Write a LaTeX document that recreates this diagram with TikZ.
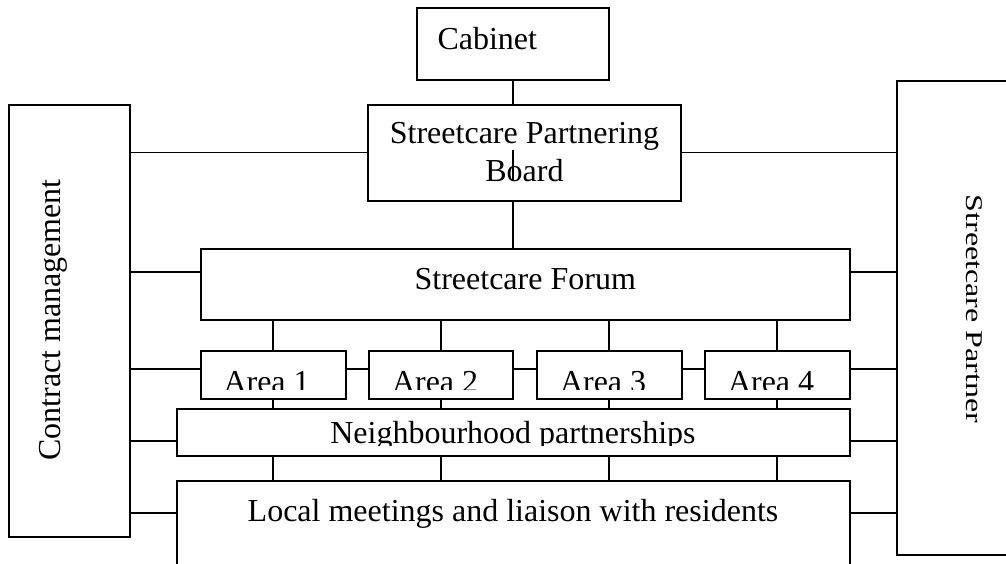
\documentclass[tikz,border=0pt]{standalone}
\usepackage{fontspec}
\setmainfont{Liberation Serif}
\usepackage{graphicx}
\begin{document}
\begin{tikzpicture}[x=1pt,y=-1pt,
  box/.style={draw, fill=white, line width=2pt, inner sep=0pt, outer sep=0pt},
  conn/.style={line width=1.8pt},
  lbl/.style={inner sep=0pt, outer sep=0pt, font=\fontsize{32}{38}\selectfont},
]
\useasboundingbox (0,0) rectangle (1006,563);
\clip (0,0) rectangle (1006,563);
% helper rows
\coordinate (yF) at (0,272);
\coordinate (yA) at (0,369);
\coordinate (yN) at (0,441);
\coordinate (yL) at (0,513);
\coordinate (s1) at (0,150);
\coordinate (s2) at (0,180);
% box shapes (placed first so names exist)
\path
  (513,43.75) node[box, minimum width=192.5, minimum height=72.5] (cab) {}
  (524.5,152.5) node[box, minimum width=313, minimum height=96] (board) {}
  (69.1,320.6) node[box, minimum width=120.8, minimum height=432.2] (contract) {}
  (958.5,318) node[box, minimum width=123, minimum height=474] (partner) {}
  (525.25,284.65) node[box, minimum width=649.5, minimum height=71.3] (forum) {}
  (273,375.15) node[box, minimum width=145, minimum height=48.3] (area1) {}
  (440.75,375.15) node[box, minimum width=144.5, minimum height=48.3] (area2) {}
  (609.25,375.15) node[box, minimum width=144.5, minimum height=48.3] (area3) {}
  (777.25,375.15) node[box, minimum width=144.5, minimum height=48.3] (area4) {}
  (513.25,432) node[box, minimum width=672.9, minimum height=47] (neigh) {}
  (513.25,540.25) node[box, minimum width=672.9, minimum height=119.5] (local) {};
% connectors
\draw[conn] (cab.south) -- (cab.south |- board.north);
\draw[conn] (cab.south |- board.south) -- (cab.south |- forum.north);
\draw[conn] (contract.east |- board.west) -- (board.west);
\draw[conn] (contract.east |- yF) -- (forum.west |- yF);
\draw[conn] (contract.east |- yA) -- (area1.west |- yA);
\draw[conn] (contract.east |- yN) -- (neigh.west |- yN);
\draw[conn] (contract.east |- yL) -- (local.west |- yL);
\draw[conn] (board.east) -- (partner.west |- board.east);
\draw[conn] (forum.east |- yF) -- (partner.west |- yF);
\draw[conn] (area4.east |- yA) -- (partner.west |- yA);
\draw[conn] (neigh.east |- yN) -- (partner.west |- yN);
\draw[conn] (local.east |- yL) -- (partner.west |- yL);
\draw[conn] (area1.east |- yA) -- (area2.west |- yA);
\draw[conn] (area2.east |- yA) -- (area3.west |- yA);
\draw[conn] (area3.east |- yA) -- (area4.west |- yA);
\foreach \a in {area1,area2,area3,area4}{
  \draw[conn] (\a.north |- forum.south) -- (\a.north);
  \draw[conn] (\a.south) -- (\a.south |- neigh.north);
  \draw[conn] (\a.south |- neigh.south) -- (\a.south |- local.north);
}
% redraw boxes on top of connectors
\path
  (513,43.75) node[box, minimum width=192.5, minimum height=72.5] {}
  (524.5,152.5) node[box, minimum width=313, minimum height=96] {}
  (69.1,320.6) node[box, minimum width=120.8, minimum height=432.2] {}
  (958.5,318) node[box, minimum width=123, minimum height=474] {}
  (525.25,284.65) node[box, minimum width=649.5, minimum height=71.3] {}
  (273,375.15) node[box, minimum width=145, minimum height=48.3] {}
  (440.75,375.15) node[box, minimum width=144.5, minimum height=48.3] {}
  (609.25,375.15) node[box, minimum width=144.5, minimum height=48.3] {}
  (777.25,375.15) node[box, minimum width=144.5, minimum height=48.3] {}
  (513.25,432) node[box, minimum width=672.9, minimum height=47] {}
  (513.25,540.25) node[box, minimum width=672.9, minimum height=119.5] {};
% texts
\node[lbl, anchor=base west] (tcab) at (437.5,49.3) {Cabinet};
\node[lbl, anchor=base] (tboard1) at (524.5,143.3) {Streetcare Partnering};
\node[lbl, anchor=base] (tboard2) at (524.5,181.7) {Board};
\node[lbl, anchor=base] (tforum) at (525.25,289.3) {Streetcare Forum};
\node[lbl, anchor=base, rotate=90] (tcontract) at (60,320) {Contract management};
\node[lbl, anchor=base, rotate=-90] (tpartner) at (966.5,309) {\scalebox{1}[0.75]{Streetcare Partner}};
\begin{scope}
  \clip (0,340) rectangle (1006,389.3);
  \node[lbl, anchor=base west] (ta1) at (223.5,392) {Area 1};
  \node[lbl, anchor=base west] (ta2) at (392,392) {Area 2};
  \node[lbl, anchor=base west] (ta3) at (560,392) {Area 3};
  \node[lbl, anchor=base west] (ta4) at (728,392) {Area 4};
\end{scope}
\begin{scope}
  \clip (0,409) rectangle (1006,445);
  \node[lbl, anchor=base] (tneigh) at (513,443.6) {Neighbourhood partnerships};
\end{scope}
\node[lbl, anchor=base] (tlocal) at (513,521.7) {Local meetings and liaison with residents};
% stray mark inside the board box
\draw[conn] (cab.south |- s1) -- (cab.south |- s2);
\end{tikzpicture}
\end{document}
